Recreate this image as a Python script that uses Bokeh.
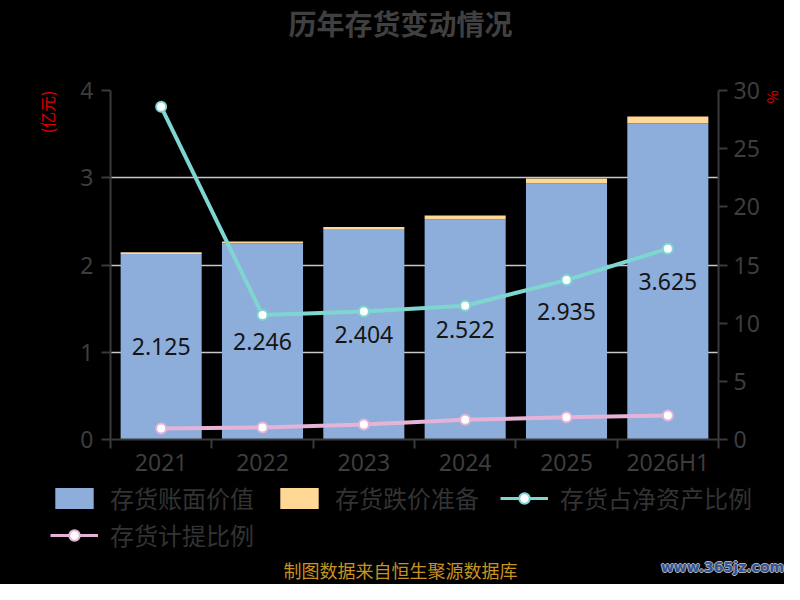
from bokeh.plotting import figure
from bokeh.layouts import column
from bokeh.models import (ColumnDataSource, Range1d, LinearAxis, FixedTicker, Label,
                          LabelSet, Legend, LegendItem, Title)
from bokeh.embed import file_html
from bokeh.resources import INLINE
from bokeh.core.properties import value

# ---------------- data ----------------
categories = ["2021", "2022", "2023", "2024", "2025", "2026H1"]
book_value = [2.125, 2.246, 2.404, 2.522, 2.935, 3.625]          # 存货账面价值 (亿元)
impairment = [0.020, 0.023, 0.031, 0.044, 0.057, 0.076]          # 存货跌价准备 (亿元)
inv_to_net_assets = [28.6, 10.7, 11.0, 11.5, 13.7, 16.4]         # 存货占净资产比例 (%)
provision_ratio = [0.94, 1.03, 1.29, 1.70, 1.91, 2.06]           # 存货计提比例 (%)
left_ticks = [0, 1, 2, 3, 4]
right_ticks = [0, 5, 10, 15, 20, 25, 30]

# ---------------- styles ----------------
FONT = "Noto Sans CJK SC"
NUM_FONT = "Noto Sans"
BLUE = "#8DAEDB"
ORANGE = "#FFD896"
TEAL = "#7FD5CF"
PINK = "#E6B3D8"
AXIS = "#3a3a3a"
TICK_TXT = "#3d3d3d"
W = 784

xs = [i + 0.5 for i in range(len(categories))]
src = ColumnDataSource(dict(
    x=xs,
    cat=categories,
    book=book_value,
    imp_top=[b + r for b, r in zip(book_value, impairment)],
    mid=[b / 2 for b in book_value],
    label=[f"{b:.3f}" for b in book_value],
    pct=inv_to_net_assets,
    prov=provision_ratio,
))


def strip(height):
    f = figure(width=W, height=height, output_backend="svg", toolbar_location=None,
               x_range=Range1d(0, W), y_range=Range1d(0, height), min_border=0,
               x_axis_type=None, y_axis_type=None, frame_align=False)
    f.grid.visible = False
    f.outline_line_color = None
    f.background_fill_color = "black"
    f.border_fill_color = "black"
    return f


# ---------------- header (title) ----------------
head = strip(60)
head.add_layout(Label(x=400, y=38, text="历年存货变动情况", text_align="center",
                      text_baseline="middle", text_font=FONT, text_font_size="28px",
                      text_font_style="bold", text_color="#404040"))

# ---------------- main chart ----------------
p = figure(width=W, height=420, output_backend="svg", toolbar_location=None,
           x_range=Range1d(0, len(categories)), y_range=Range1d(left_ticks[0], left_ticks[-1]),
           min_border_left=110, min_border_right=62, min_border_top=30, min_border_bottom=40,
           frame_align=False)
p.extra_y_ranges = {"pct": Range1d(right_ticks[0], right_ticks[-1])}
p.background_fill_color = "black"
p.border_fill_color = "black"
p.outline_line_color = None

p.vbar(x="x", width=0.8, bottom=0, top="book", source=src, fill_color=BLUE, line_color=None)
p.vbar(x="x", width=0.8, bottom="book", top="imp_top", source=src,
       fill_color=ORANGE, line_color=None)

p.add_layout(LabelSet(x="x", y="mid", text="label", source=src, text_align="center",
                      text_baseline="middle", text_font=value(NUM_FONT),
                      text_font_size="23px", text_color="#151515"))

p.line("x", "pct", source=src, y_range_name="pct", line_color=TEAL, line_width=4)
p.scatter("x", "pct", source=src, y_range_name="pct", size=10, fill_color="white",
          line_color=TEAL, line_width=2)
p.line("x", "prov", source=src, y_range_name="pct", line_color=PINK, line_width=4)
p.scatter("x", "prov", source=src, y_range_name="pct", size=10, fill_color="white",
          line_color=PINK, line_width=2)


def style_axis(ax):
    ax.axis_line_color = AXIS
    ax.axis_line_width = 2
    ax.major_tick_line_color = AXIS
    ax.major_tick_line_width = 2
    ax.major_tick_in = 0
    ax.major_tick_out = 9
    ax.minor_tick_line_color = None
    ax.major_label_text_font = NUM_FONT
    ax.major_label_text_font_size = "23px"
    ax.major_label_text_color = TICK_TXT
    ax.major_label_standoff = 8


yl = p.yaxis[0]
yl.ticker = FixedTicker(ticks=left_ticks)
style_axis(yl)

yr = LinearAxis(y_range_name="pct", ticker=FixedTicker(ticks=right_ticks))
style_axis(yr)
yr.major_label_standoff = 6
p.add_layout(yr, "right")

xa = p.xaxis[0]
style_axis(xa)
xa.ticker = FixedTicker(ticks=xs, minor_ticks=list(range(len(categories) + 1)))
xa.major_label_overrides = {x: c for x, c in zip(xs, categories)}
xa.major_tick_line_color = None
xa.major_tick_out = 0
xa.minor_tick_line_color = AXIS
xa.minor_tick_line_width = 2
xa.minor_tick_in = 0
xa.minor_tick_out = 9
xa.major_label_standoff = -3

p.xgrid.visible = False
p.ygrid.ticker = FixedTicker(ticks=left_ticks)
p.ygrid.grid_line_color = "#c8c8c8"
p.ygrid.grid_line_width = 1.5

p.add_layout(Title(text="(亿元)", align="right", standoff=37, text_font=FONT,
                   text_font_size="16px", text_font_style="normal",
                   text_color="#e00000"), "left")
p.add_layout(Title(text="%", align="left", standoff=0, text_font=FONT,
                   text_font_size="14px", text_font_style="normal",
                   text_color="#e00000"), "right")

# ---------------- legend + footer ----------------
foot = strip(104)
# hidden proxies (same data) so that the legend can draw its swatches
g_book = foot.vbar(x="x", width=0.8, bottom=0, top="book", source=src,
                   fill_color=BLUE, line_color=None, visible=False)
g_imp = foot.vbar(x="x", width=0.8, bottom="book", top="imp_top", source=src,
                  fill_color=ORANGE, line_color=None, visible=False)
g_l1 = foot.line("x", "pct", source=src, line_color=TEAL, line_width=3, visible=False)
g_s1 = foot.scatter("x", "pct", source=src, size=10, fill_color="white",
                    line_color=TEAL, line_width=2, visible=False)
g_l2 = foot.line("x", "prov", source=src, line_color=PINK, line_width=3, visible=False)
g_s2 = foot.scatter("x", "prov", source=src, size=10, fill_color="white",
                    line_color=PINK, line_width=2, visible=False)

leg_style = dict(orientation="horizontal", glyph_width=48, glyph_height=26,
                 label_standoff=12, spacing=21, margin=0, padding=0,
                 border_line_color=None, background_fill_alpha=0,
                 inactive_fill_alpha=0, label_text_font=FONT,
                 label_text_font_size="24px", label_text_color="#333333")
foot.add_layout(Legend(items=[
    LegendItem(label="存货账面价值", renderers=[g_book]),
    LegendItem(label="存货跌价准备", renderers=[g_imp]),
    LegendItem(label="存货占净资产比例", renderers=[g_l1, g_s1]),
], location=(50, 69), **leg_style))
foot.add_layout(Legend(items=[
    LegendItem(label="存货计提比例", renderers=[g_l2, g_s2]),
], location=(50, 32), **leg_style))

foot.add_layout(Label(x=400, y=15, text="制图数据来自恒生聚源数据库", text_align="center",
                      text_baseline="middle", text_font=FONT, text_font_size="18px",
                      text_color="#C8921E"))
for dx, dy in [(-1, 0), (1, 0), (0, -1), (0, 1)]:
    foot.add_layout(Label(x=722, y=18, text="www.365jz.com", x_offset=dx, y_offset=dy,
                          text_align="center", text_baseline="middle",
                          text_font="DejaVu Sans", text_font_size="14px",
                          text_font_style="bold", text_color="#b0b0b0"))
foot.add_layout(Label(x=722, y=18, text="www.365jz.com", text_align="center",
                      text_baseline="middle", text_font="DejaVu Sans",
                      text_font_size="14px", text_font_style="bold", text_color="#2F5597"))

layout = column(head, p, foot, spacing=0, styles={"background-color": "black"})
open("out.html", "w").write(file_html(layout, INLINE))
